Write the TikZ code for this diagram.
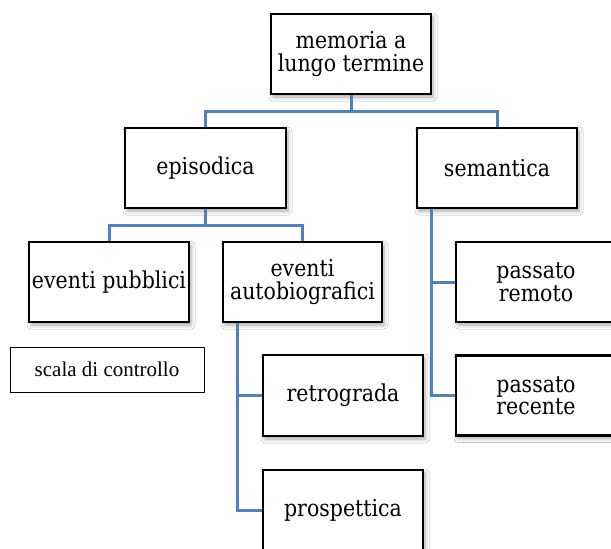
\documentclass[tikz,border=0pt]{standalone}
\usepackage{fontspec}
\setmainfont[FakeStretch=0.88]{DejaVu Serif}
\newfontfamily\timesf{Liberation Serif}
\usetikzlibrary{shadows.blur}
\definecolor{connblue}{RGB}{79,129,189}
\begin{document}
\begin{tikzpicture}[x=1pt,y=-1pt,
 box/.style={draw=black, line width=2.5pt, fill=white, minimum width=160pt, minimum height=80pt, align=center, font=\fontsize{23.3}{22.5}\selectfont, inner sep=2pt, blur shadow={shadow xshift=2pt, shadow yshift=-3pt, shadow blur radius=4pt, shadow opacity=35}},
 conn/.style={draw=connblue, line width=3pt},
 ctrl/.style={draw=black, line width=0.7pt, minimum width=194pt, minimum height=45pt, font=\timesf\fontsize{21}{23}\selectfont}]
\useasboundingbox (0,0) rectangle (611,549);
\clip (0,0) rectangle (611,549);
\fill[white] (0,0) rectangle (611,549);
\node[box] (mem) at (351,54) {memoria a\\lungo termine};
\node[box, minimum width=161pt] (epi) at (205.5,168) {episodica};
\node[box] (sem) at (497,168) {semantica};
\node[box] (pub) at (109,282) {eventi pubblici};
\node[box, minimum width=159pt] (auto) at (302.5,282) {eventi\\autobiografici};
\node[box] (rem) at (536,282) {passato\\remoto};
\node[box] (rec) at (536,395.5) {passato\\recente};
\node[box, minimum height=81pt] (retro) at (343,395.5) {retrograda};
\node[box] (prosp) at (343,510) {prospettica};
\node[ctrl] (ctrl) at (107,369.5) {scala di controllo};
\draw[conn] (mem.south) -- ++(0,16.5) -| (epi.north);
\draw[conn] (mem.south) -- ++(0,16.5) -| (sem.north);
\draw[conn] (epi.south) -- ++(0,16) -| (pub.north);
\draw[conn] (epi.south) -- ++(0,16) -| (auto.north);
\draw[conn] ([xshift=15.5pt]auto.south west) |- (retro.west);
\draw[conn] ([xshift=15.5pt]auto.south west) |- (prosp.west);
\draw[conn] ([xshift=16pt]sem.south west) |- (rem.west);
\draw[conn] ([xshift=16pt]sem.south west) |- (rec.west);
\end{tikzpicture}
\end{document}
